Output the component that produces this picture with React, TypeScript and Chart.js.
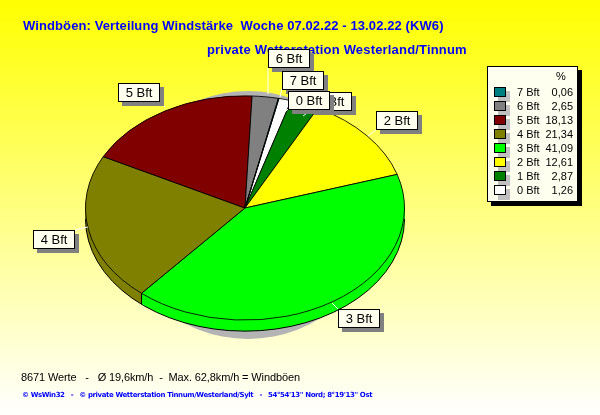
import React, { useEffect, useRef } from "react";
import { Chart, registerables } from "chart.js";

Chart.register(...registerables);

const categories = ["0 Bft", "1 Bft", "2 Bft", "3 Bft", "4 Bft", "5 Bft", "6 Bft", "7 Bft"];
const values = [1.26, 2.87, 12.61, 41.09, 21.34, 18.13, 2.65, 0.06];
const colors = ["#ffffff", "#008000", "#ffff00", "#00ff00", "#808000", "#800000", "#808080", "#008080"];
const legendOrder = [7, 6, 5, 4, 3, 2, 1, 0];
const titleText = "Windböen: Verteilung Windstärke  Woche 07.02.22 - 13.02.22 (KW6)";
const subtitleText = "private Wetterstation Westerland/Tinnum";
const statsText = "8671 Werte   -   Ø 19,6km/h  -  Max. 62,8km/h = Windböen";
const footerText = "© WsWin32   -   © private Wetterstation Tinnum/Westerland/Sylt   -   54°54'13'' Nord; 8°19'13'' Ost";

// [category index, box x, box y, leader x1, y1, x2, y2]
const pieLabels = [
  [2, 376, 111, 376, 130, 368, 136],
  [3, 338, 309, 338, 309, 332, 303],
  [4, 33, 230, 75, 230, 88, 227],
  [5, 118, 83, 159, 102, 165, 107],
  [1, 310, 92, 310, 111, 303, 116],
  [6, 268, 49, 268, 68, 268, 94],
  [7, 282, 71, 282, 89, 280, 97],
  [0, 288, 91, 288, 109, 284, 113],
];

const RATIO = 0.703;
const DEPTH = 11;

const art = {
  id: "art",
  beforeDraw(chart: any) {
    const { ctx, width, height } = chart;
    const g = ctx.createLinearGradient(0, 0, 0, height);
    g.addColorStop(0, "#ffff00");
    g.addColorStop(1, "#ffffff");
    ctx.fillStyle = g;
    ctx.fillRect(0, 0, width, height);
    ctx.textBaseline = "alphabetic";
    ctx.textAlign = "left";
    ctx.fillStyle = "#0000ff";
    ctx.font = "bold 13px 'Liberation Sans'";
    ctx.letterSpacing = "0.1px";
    ctx.fillText(titleText, 23, 30);
    ctx.letterSpacing = "0.18px";
    ctx.fillText(subtitleText, 207, 54);
    ctx.letterSpacing = "0px";
  },
  beforeDatasetsDraw(chart: any) {
    const { ctx } = chart;
    const arcs = chart.getDatasetMeta(0).data;
    const { x: cx, y: cy, outerRadius: r } = arcs[0];
    // soft shadow under the pie
    ctx.fillStyle = "#b4b4b4";
    ctx.beginPath();
    ctx.ellipse(cx + 3, cy + 7, r * 0.82, 124, 0, 0, Math.PI * 2);
    ctx.fill();
    // rim
    for (let k = DEPTH; k >= 0; k--) {
      arcs.forEach((a: any, i: number) => {
        ctx.save();
        ctx.translate(cx, cy + k);
        ctx.scale(1, RATIO);
        ctx.beginPath();
        ctx.moveTo(0, 0);
        ctx.arc(0, 0, r, a.startAngle, a.endAngle);
        ctx.closePath();
        ctx.restore();
        ctx.fillStyle = colors[i];
        ctx.fill();
      });
    }
    ctx.strokeStyle = "#000";
    ctx.lineWidth = 1;
    ctx.save();
    ctx.translate(cx, cy + DEPTH);
    ctx.scale(1, RATIO);
    ctx.beginPath();
    ctx.arc(0, 0, r, 0, Math.PI);
    ctx.restore();
    ctx.stroke();
    arcs.forEach((a: any) => {
      if (Math.sin(a.startAngle) > 0) {
        const px = cx + r * Math.cos(a.startAngle);
        const py = cy + r * RATIO * Math.sin(a.startAngle);
        ctx.beginPath();
        ctx.moveTo(px, py);
        ctx.lineTo(px, py + DEPTH);
        ctx.stroke();
      }
    });
  },
  beforeDatasetDraw(chart: any) {
    const { ctx } = chart;
    const { x: cx, y: cy } = chart.getDatasetMeta(0).data[0];
    ctx.save();
    ctx.translate(cx, cy);
    ctx.scale(1, RATIO);
    ctx.translate(-cx, -cy);
  },
  afterDatasetDraw(chart: any) {
    chart.ctx.restore();
  },
  afterDatasetsDraw(chart: any) {
    const { ctx } = chart;
    // pie labels
    ctx.font = "13px 'Liberation Sans'";
    ctx.textBaseline = "alphabetic";
    pieLabels.forEach(([idx, x, y, x1, y1, x2, y2]) => {
      const w = 42;
      const h = 19;
      ctx.strokeStyle = "#ffffff";
      ctx.lineWidth = 1;
      ctx.beginPath();
      ctx.moveTo(x1, y1);
      ctx.lineTo(x2, y2);
      ctx.stroke();
      ctx.fillStyle = "#808080";
      ctx.fillRect(x + 4, y + 4, w, h);
      ctx.fillStyle = "#fffff0";
      ctx.fillRect(x, y, w, h);
      ctx.strokeStyle = "#000";
      ctx.strokeRect(x + 0.5, y + 0.5, w - 1, h - 1);
      ctx.fillStyle = "#000";
      ctx.textAlign = "center";
      ctx.fillText(categories[idx], x + w / 2, y + 14);
    });
    // legend
    const lx = 487, ly = 66, lw = 91, lh = 136;
    ctx.fillStyle = "#000";
    ctx.fillRect(lx + 4, ly + 4, lw, lh);
    ctx.fillStyle = "#fffff0";
    ctx.fillRect(lx, ly, lw, lh);
    ctx.strokeStyle = "#000";
    ctx.strokeRect(lx + 0.5, ly + 0.5, lw - 1, lh - 1);
    ctx.font = "11px 'Liberation Sans'";
    ctx.fillStyle = "#000";
    ctx.textAlign = "left";
    ctx.fillText("%", 556, 80);
    legendOrder.forEach((idx, row) => {
      const y = 92 + row * 14;
      ctx.fillStyle = "#c0c0c0";
      ctx.fillRect(498, y - 1, 12, 11);
      ctx.fillStyle = colors[idx];
      ctx.fillRect(494, y - 5, 12, 10);
      ctx.strokeStyle = "#000";
      ctx.strokeRect(494.5, y - 4.5, 11, 9);
      ctx.fillStyle = "#000";
      ctx.textAlign = "left";
      ctx.fillText(categories[idx], 517, y + 4);
      ctx.textAlign = "right";
      ctx.fillText(values[idx].toFixed(2).replace(".", ","), 573, y + 4);
    });
    // bottom texts
    ctx.textAlign = "left";
    ctx.fillStyle = "#000";
    ctx.font = "11px 'Liberation Sans'";
    ctx.letterSpacing = "-0.12px";
    ctx.fillText(statsText, 21, 381);
    ctx.fillStyle = "#0000ff";
    ctx.font = "bold 7px 'DejaVu Sans'";
    ctx.letterSpacing = "-0.4px";
    ctx.fillText(footerText, 22, 397);
    ctx.letterSpacing = "0px";
  },
};

export default function App() {
  const ref = useRef<HTMLCanvasElement>(null);
  useEffect(() => {
    const chart = new Chart(ref.current!, {
      type: "pie",
      data: {
        labels: categories,
        datasets: [{ data: values, backgroundColor: colors, borderColor: "#000000", borderWidth: 1, borderAlign: "center" }],
      },
      options: {
        responsive: false,
        animation: false,
        rotation: 12.3,
        layout: { padding: { left: 85, right: 195, top: 48, bottom: 47 } },
        plugins: { legend: { display: false }, title: { display: false }, tooltip: { enabled: false } },
      },
      plugins: [art],
    } as any);
    return () => chart.destroy();
  }, []);
  return (
    <div style={{ position: "absolute", left: 0, top: 0, width: 600, height: 415 }}>
      <canvas ref={ref} width={600} height={415} style={{ display: "block", width: 600, height: 415 }} />
    </div>
  );
}
